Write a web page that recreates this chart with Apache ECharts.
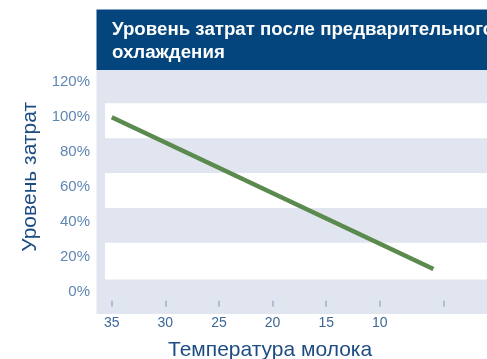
<!DOCTYPE html>
<html>
<head>
<meta charset="utf-8">
<script src="https://cdn.jsdelivr.net/npm/echarts@6/dist/echarts.min.js"></script>
<style>
  html, body { margin: 0; padding: 0; background: #ffffff; }
  #chart { width: 487px; height: 359px; }
</style>
</head>
<body>
<div id="chart"></div>
<script>
// Milk temperature (°C) against relative cost level (%)
const temperatures = [35, 5];
const costLevels = [100, 13];

// Axis ticks and labels
const xTickValues = [35, 30, 25, 20, 15, 10, 4];
const xLabelValues = [35, 30, 25, 20, 15, 10];
const yLabelValues = [0, 20, 40, 60, 80, 100, 120];

// Alternating white bands behind the line (value ranges in %)
const bandRanges = [[7, 28], [48, 68], [88, 108]];

const titleText = 'Уровень затрат после предварительного\nохлаждения';
const xName = 'Температура молока';
const yName = 'Уровень затрат';

const chart = echarts.init(document.getElementById('chart'), null, { renderer: 'canvas' });

const FONT = '"Liberation Sans", Arial, Helvetica, sans-serif';

chart.setOption({
  animation: false,
  backgroundColor: '#ffffff',
  graphic: [
    { type: 'rect', z: -10, shape: { x: 96.5, y: 9.5, width: 391, height: 60.5 }, style: { fill: '#03457c' } },
    { type: 'rect', z: -10, shape: { x: 96.5, y: 70, width: 391, height: 244 }, style: { fill: '#e1e5f0' } }
  ],
  title: [
    {
      text: titleText,
      left: 112,
      top: 18,
      padding: 0,
      textStyle: { color: '#ffffff', fontSize: 18.7, fontWeight: 'bold', lineHeight: 23, fontFamily: FONT }
    },
    {
      text: xName,
      left: 168,
      top: 340,
      padding: 0,
      textStyle: { color: '#1d4c82', fontSize: 21, fontWeight: 'normal', fontFamily: FONT }
    }
  ],
  grid: { left: 105, right: 0, top: 70, bottom: 52.3, containLabel: false },
  xAxis: {
    type: 'value',
    inverse: true,
    min: 0,
    max: 35.63,
    axisLine: { show: false, onZero: false },
    splitLine: { show: false },
    axisTick: {
      show: true,
      inside: true,
      length: 6,
      customValues: xTickValues,
      lineStyle: { color: '#9cb0cf', width: 1.5 }
    },
    axisLabel: {
      customValues: xLabelValues,
      margin: 9,
      color: '#3d6797',
      fontSize: 14,
      fontFamily: FONT
    }
  },
  yAxis: {
    type: 'value',
    min: -8.6,
    max: 127.05,
    name: yName,
    nameLocation: 'middle',
    nameGap: 51,
    nameTextStyle: { color: '#1d4c82', fontSize: 21, fontFamily: FONT, padding: [0, 0, 0, 23] },
    axisLine: { show: false },
    axisTick: { show: false },
    splitLine: { show: false },
    axisLabel: {
      customValues: yLabelValues,
      margin: 15,
      color: '#5f86b2',
      fontSize: 15,
      fontFamily: FONT,
      formatter: v => v + '%'
    }
  },
  series: [
    {
      type: 'line',
      data: temperatures.map((t, i) => [t, costLevels[i]]),
      showSymbol: false,
      symbol: 'none',
      lineStyle: { color: '#5a8a4e', width: 4.5 },
      markArea: {
        silent: true,
        itemStyle: { color: '#ffffff' },
        label: { show: false },
        data: bandRanges.map(r => [{ yAxis: r[0] }, { yAxis: r[1] }])
      }
    }
  ]
});
</script>
</body>
</html>
